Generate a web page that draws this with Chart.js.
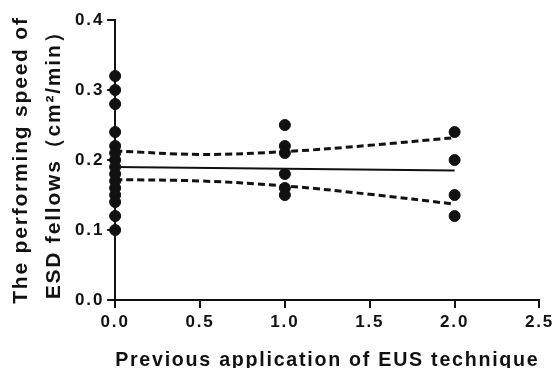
<!DOCTYPE html>
<html>
<head>
<meta charset="utf-8">
<script src="https://cdn.jsdelivr.net/npm/chart.js@4"></script>
<style>
  html, body { margin: 0; padding: 0; background: #fff; }
  #wrap { width: 558px; height: 368px; }
</style>
</head>
<body>
<div id="wrap"><canvas id="myChart"></canvas></div>
<script>
// raw observations: previous EUS applications vs. speed
const groupX = [0, 1, 2];
const speedAt0 = [0.32, 0.30, 0.28, 0.24, 0.22, 0.21, 0.20, 0.19, 0.18, 0.17, 0.16, 0.15, 0.14, 0.12, 0.10];
const speedAt1 = [0.25, 0.22, 0.21, 0.18, 0.16, 0.15];
const speedAt2 = [0.24, 0.20, 0.15, 0.12];

// regression line and 95% band
const fitX = [0, 2];
const fitY = [0.19, 0.185];
const bandX = [0, 0.5, 1, 1.5, 2];
const upperY = [0.213, 0.208, 0.212, 0.221, 0.232];
const lowerY = [0.172, 0.170, 0.163, 0.151, 0.137];

const xTicks = [0, 0.5, 1, 1.5, 2, 2.5];
const yTicks = [0, 0.1, 0.2, 0.3, 0.4];

const points = [];
[speedAt0, speedAt1, speedAt2].forEach((arr, i) => {
    arr.forEach(v => points.push({ x: groupX[i], y: v }));
});
const pairs = (xs, ys) => xs.map((x, i) => ({ x: x, y: ys[i] }));

const ink = '#111';
const fam = 'Liberation Sans, Arial';

// the original lettering is spaced out a bit
const spacing = {
    id: 'spacing',
    beforeUpdate: c => { c.ctx.letterSpacing = '1.8px'; },
    beforeDraw: c => { c.ctx.letterSpacing = '1.8px'; }
};

const ctx = document.getElementById('myChart').getContext('2d');
const myChart = new Chart(ctx, {
    type: 'scatter',
    data: {
        datasets: [{
            label: 'Speed',
            data: points,
            backgroundColor: ink,
            borderColor: ink,
            pointRadius: 5.5,
            showLine: false,
            clip: false
        }, {
            label: 'Fit',
            data: pairs(fitX, fitY),
            showLine: true,
            borderColor: ink,
            borderWidth: 2,
            pointRadius: 0,
            fill: false
        }, {
            label: 'Upper',
            data: pairs(bandX, upperY),
            showLine: true,
            borderColor: ink,
            borderWidth: 3,
            borderDash: [7, 4],
            tension: 0.4,
            pointRadius: 0,
            fill: false
        }, {
            label: 'Lower',
            data: pairs(bandX, lowerY),
            showLine: true,
            borderColor: ink,
            borderWidth: 3,
            borderDash: [7, 4],
            tension: 0.4,
            pointRadius: 0,
            fill: false
        }]
    },
    plugins: [spacing],
    options: {
        responsive: true,
        maintainAspectRatio: false,
        animation: false,
        layout: { padding: { top: 20, right: 17, left: 0, bottom: 0 } },
        plugins: {
            legend: { display: false },
            tooltip: { enabled: false }
        },
        scales: {
            x: {
                type: 'linear',
                min: 0,
                max: 2.5,
                afterBuildTicks: axis => { axis.ticks = xTicks.map(v => ({ value: v })); },
                border: { display: true, color: ink, width: 2 },
                grid: { drawOnChartArea: false, drawTicks: true, tickLength: 8, color: ink, lineWidth: 2 },
                ticks: {
                    color: ink,
                    padding: 4,
                    font: { family: fam, size: 17, weight: 'bold' },
                    callback: v => v.toFixed(1)
                },
                title: {
                    display: true,
                    text: 'Previous application of EUS technique',
                    color: ink,
                    padding: { top: 12, bottom: -5 },
                    font: { family: fam, size: 20.5, weight: 'bold' }
                }
            },
            y: {
                type: 'linear',
                min: 0,
                max: 0.4,
                afterBuildTicks: axis => { axis.ticks = yTicks.map(v => ({ value: v })); },
                border: { display: true, color: ink, width: 2 },
                grid: { drawOnChartArea: false, drawTicks: true, tickLength: 8, color: ink, lineWidth: 2 },
                ticks: {
                    color: ink,
                    padding: 3,
                    font: { family: fam, size: 17, weight: 'bold' },
                    callback: v => v.toFixed(1)
                },
                title: {
                    display: true,
                    text: ['The performing speed of', 'ESD fellows（cm²/min）'],
                    color: ink,
                    padding: { top: 5, bottom: 2 },
                    font: { family: fam, size: 21, weight: 'bold', lineHeight: 1.55 }
                }
            }
        }
    }
});
</script>
</body>
</html>
